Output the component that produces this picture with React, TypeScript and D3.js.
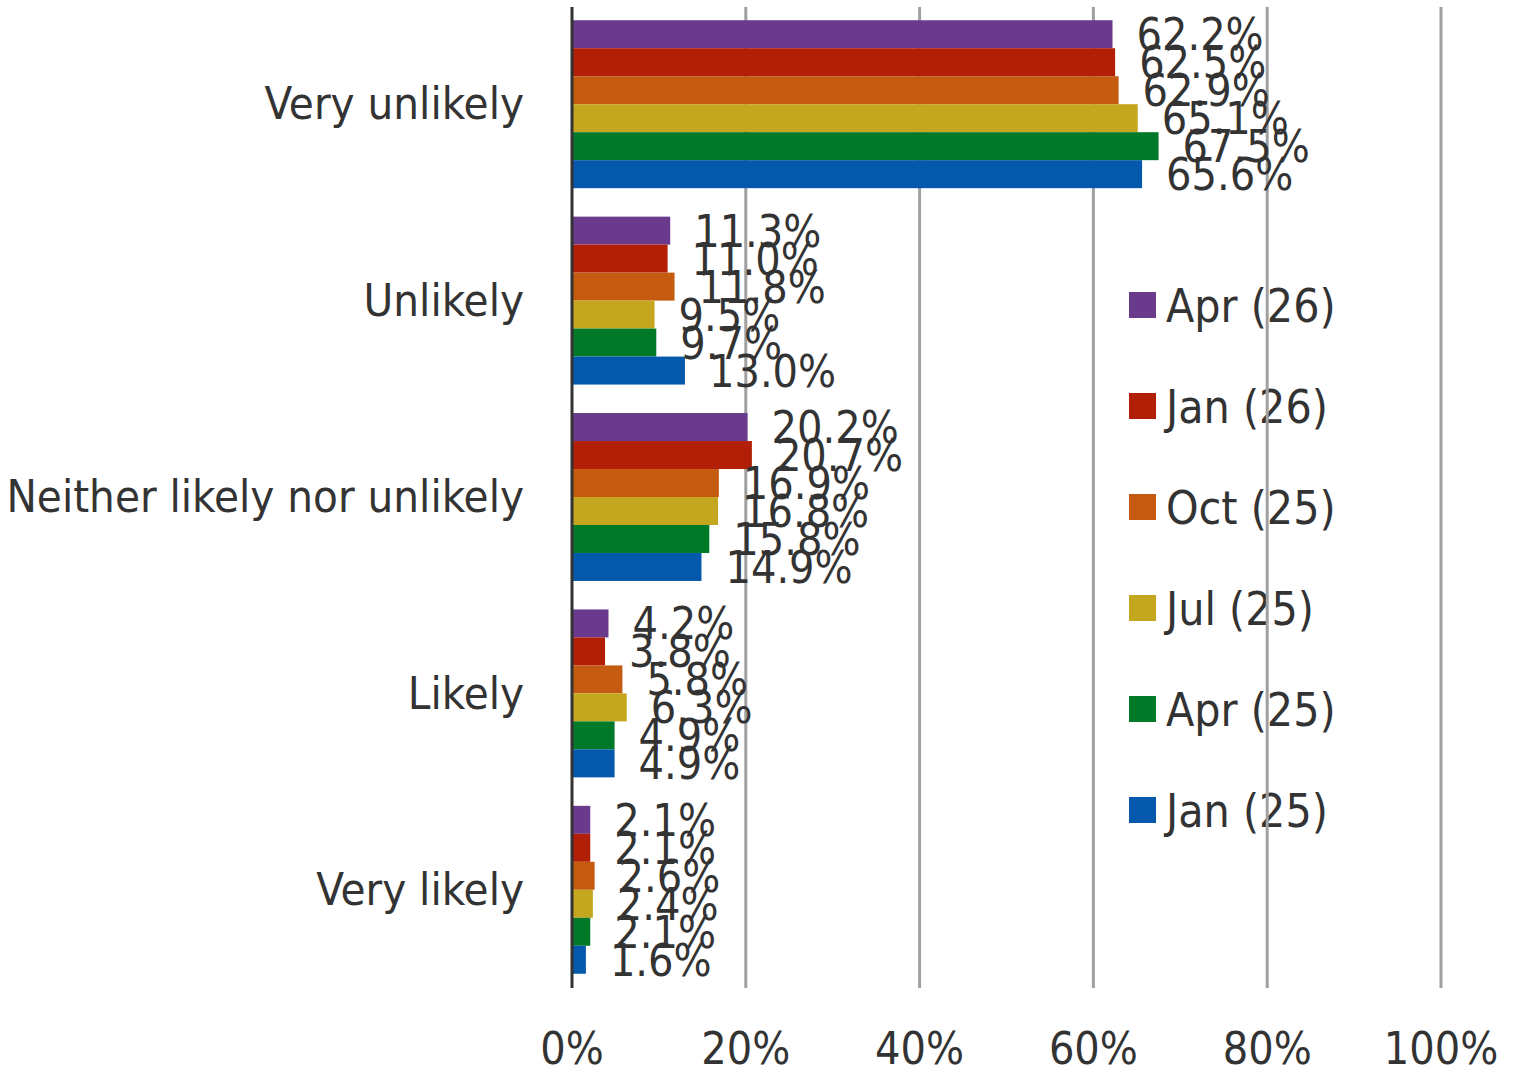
import React from "react";
import * as d3 from "d3";

const categories = ["Very unlikely", "Unlikely", "Neither likely nor unlikely", "Likely", "Very likely"];
const seriesNames = ["Apr (26)", "Jan (26)", "Oct (25)", "Jul (25)", "Apr (25)", "Jan (25)"];
const seriesColors = ["#6A3A8C", "#B11F06", "#C55A11", "#C4A71F", "#007A28", "#0559AC"];
const apr26 = [62.2, 11.3, 20.2, 4.2, 2.1];
const jan26 = [62.5, 11.0, 20.7, 3.8, 2.1];
const oct25 = [62.9, 11.8, 16.9, 5.8, 2.6];
const jul25 = [65.1, 9.5, 16.8, 6.3, 2.4];
const apr25 = [67.5, 9.7, 15.8, 4.9, 2.1];
const jan25 = [65.6, 13.0, 14.9, 4.9, 1.6];
const seriesValues = [apr26, jan26, oct25, jul25, apr25, jan25];
const xTicks = [0, 20, 40, 60, 80, 100];

const W = 1518;
const H = 1073;
const FONT = "'DejaVu Sans Condensed', 'DejaVu Sans', sans-serif";
const TEXT = "#333333";

export default function App() {
  const x = d3.scaleLinear().domain([0, 100]).range([572, 1441]);
  const y = d3.scaleBand<string>().domain(categories).range([6, 988]).paddingInner(0.145).paddingOuter(0.0725);
  const yInner = d3.scaleBand<string>().domain(seriesNames).range([0, y.bandwidth()]);
  const legendY = d3.scalePoint<string>().domain(seriesNames).range([305, 810]);
  const fmt = (v: number) => v.toFixed(1) + "%";

  return (
    <div style={{ position: "fixed", left: 0, top: 0 }}>
      <svg width={W} height={H} style={{ display: "block", background: "#fff", fontFamily: FONT, fontStretch: "condensed" }}>
        {/* legend */}
        <g>
          {seriesNames.map((s, i) => (
            <g key={s} transform={`translate(0,${legendY(s)})`}>
              <rect x={1129} y={-13} width={27} height={26} fill={seriesColors[i]} />
              <text x={1166} y={0} dy="0.36em" fontSize={46} fill={TEXT}>{s}</text>
            </g>
          ))}
        </g>
        {/* gridlines */}
        <g>
          {xTicks.slice(1).map((t) => (
            <line key={t} x1={x(t)} x2={x(t)} y1={7} y2={988} stroke="#A0A0A0" strokeWidth={3} />
          ))}
        </g>
        {/* bars */}
        <g>
          {categories.map((c, ci) => (
            <g key={c} transform={`translate(0,${y(c)})`}>
              {seriesNames.map((s, si) => (
                <rect key={s} x={x(0)} y={yInner(s)} width={x(seriesValues[si][ci]) - x(0)} height={yInner.bandwidth()} fill={seriesColors[si]} />
              ))}
            </g>
          ))}
        </g>
        {/* axis line */}
        <line x1={x(0)} x2={x(0)} y1={7} y2={988} stroke="#333" strokeWidth={3} />
        {/* data labels */}
        <g>
          {categories.map((c, ci) => (
            <g key={c} transform={`translate(0,${y(c)})`}>
              {seriesNames.map((s, si) => (
                <text key={s} x={x(seriesValues[si][ci]) + 24} y={(yInner(s) ?? 0) + yInner.bandwidth() / 2} dy="0.36em" fontSize={44.5} fill={TEXT}>
                  {fmt(seriesValues[si][ci])}
                </text>
              ))}
            </g>
          ))}
        </g>
        {/* category labels */}
        <g>
          {categories.map((c) => (
            <text key={c} x={524} y={(y(c) ?? 0) + y.bandwidth() / 2 - 1} dy="0.36em" textAnchor="end" fontSize={45.2} fill={TEXT}>{c}</text>
          ))}
        </g>
        {/* x tick labels */}
        <g>
          {xTicks.map((t) => (
            <text key={t} x={x(t)} y={1048} dy="0.36em" textAnchor="middle" fontSize={44.5} fill={TEXT}>{t + "%"}</text>
          ))}
        </g>
      </svg>
    </div>
  );
}
